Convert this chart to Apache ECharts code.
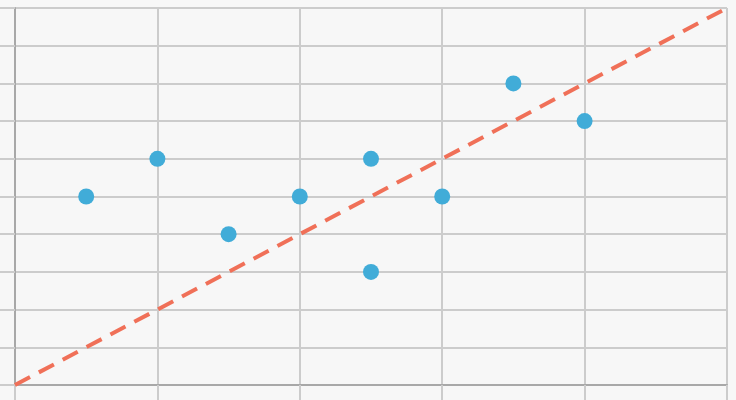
<!DOCTYPE html>
<html><head><meta charset="utf-8">
<script src="https://cdn.jsdelivr.net/npm/echarts@6/dist/echarts.min.js"></script>
<style>html,body{margin:0;padding:0;background:#f7f7f7}#c{width:736px;height:400px}</style>
</head><body><div id="c"></div>
<script>
const pointX = [1, 2, 3, 4, 5, 5, 6, 7, 8];
const pointY = [5, 6, 4, 5, 6, 3, 5, 8, 7];
const lineX = [0, 10];
const lineY = [0, 10];

const chart = echarts.init(document.getElementById('c'));
chart.setOption({
  backgroundColor: '#f7f7f7',
  animation: false,
  grid: { left: 15, right: 9, top: 8, bottom: 15, containLabel: false },
  xAxis: {
    type: 'value', min: 0, max: 10, interval: 2,
    axisLine: { show: true, lineStyle: { color: '#a8a8a8', width: 2 } },
    axisTick: { show: true, length: 16, lineStyle: { color: '#cccccc', width: 2 } },
    axisLabel: { show: false },
    splitLine: { show: true, lineStyle: { color: '#cccccc', width: 2 } }
  },
  yAxis: {
    type: 'value', min: 0, max: 10, interval: 1,
    axisLine: { show: true, lineStyle: { color: '#a8a8a8', width: 2 } },
    axisTick: { show: true, length: 15, lineStyle: { color: '#cccccc', width: 2 } },
    axisLabel: { show: false },
    splitLine: { show: true, lineStyle: { color: '#cccccc', width: 2 } }
  },
  series: [
    {
      type: 'line',
      data: lineX.map((x, i) => [x, lineY[i]]),
      showSymbol: false,
      lineStyle: { color: '#f07058', width: 4, type: [17, 10] },
      z: 3
    },
    {
      type: 'scatter',
      data: pointX.map((x, i) => [x, pointY[i]]),
      symbolSize: 16,
      itemStyle: { color: '#41acd8', opacity: 1 },
      z: 4
    }
  ]
});
</script></body></html>
